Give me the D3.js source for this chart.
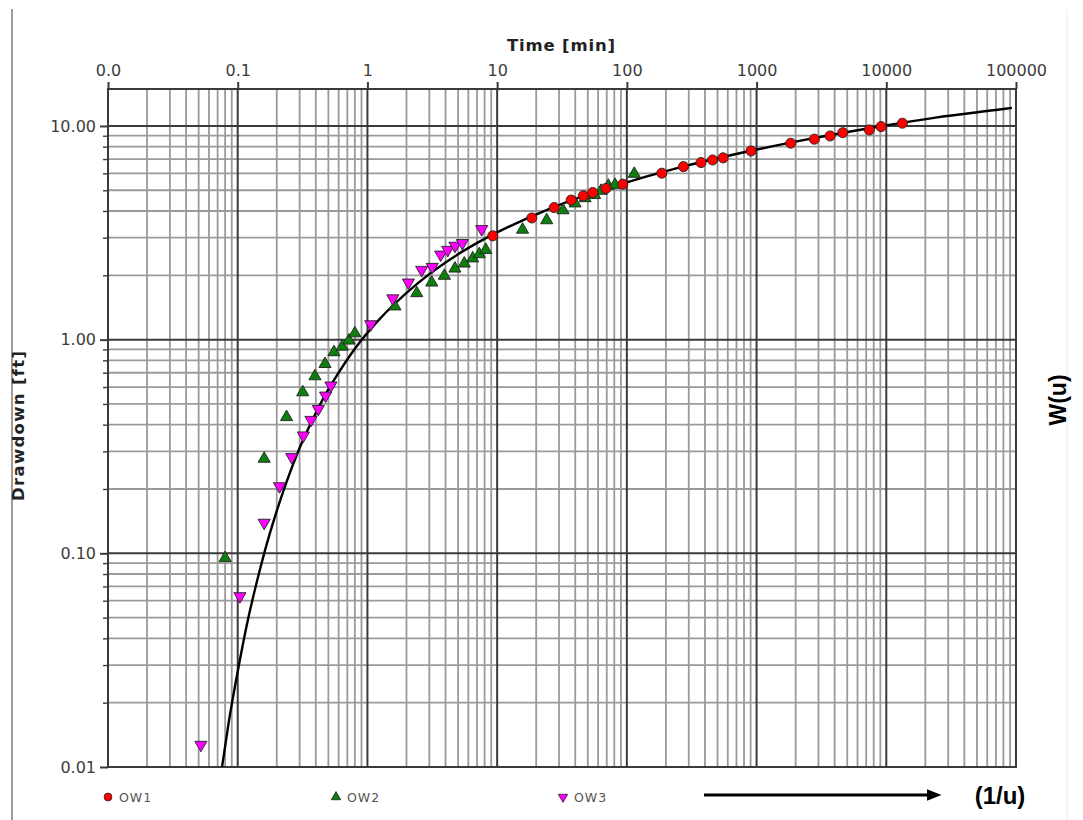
<!DOCTYPE html>
<html>
<head>
<meta charset="utf-8">
<script src="https://cdn.jsdelivr.net/npm/d3@7"></script>
<style>
    html, body { margin: 0; padding: 0; background: #fff; }
    svg { display: block; }
</style>
</head>
<body>
<div id="chart"></div>
<script>
// Axis ticks and labels
const timeTicks = [0.01, 0.1, 1, 10, 100, 1000, 10000, 100000];
const timeTickLabels = ["0.0", "0.1", "1", "10", "100", "1000", "10000", "100000"];
const drawdownTicks = [0.01, 0.1, 1, 10];
const drawdownTickLabels = ["0.01", "0.10", "1.00", "10.00"];

// Observation wells (time in min, drawdown in ft)
const ow1Time = [9.25, 18.5, 27.5, 37.2, 46.2, 54.6, 69, 93, 186, 273, 373, 458, 552, 907, 1835, 2790, 3690, 4620, 7410, 9120, 13300];
const ow1Drawdown = [3.06, 3.71, 4.15, 4.50, 4.71, 4.88, 5.10, 5.34, 6.01, 6.45, 6.74, 6.93, 7.09, 7.64, 8.30, 8.67, 8.98, 9.30, 9.58, 9.93, 10.3];

const ow2Time = [0.080, 0.160, 0.238, 0.317, 0.394, 0.471, 0.552, 0.639, 0.72, 0.80, 1.63, 2.40, 3.13, 3.92, 4.73, 5.58, 6.48, 7.29, 8.17, 15.7, 24.1, 32.2, 39.9, 47.6, 56.4, 63.2, 72, 81, 114];
const ow2Drawdown = [0.095, 0.277, 0.434, 0.567, 0.674, 0.769, 0.873, 0.927, 0.99, 1.07, 1.43, 1.65, 1.85, 1.99, 2.15, 2.27, 2.40, 2.51, 2.63, 3.27, 3.62, 4.03, 4.34, 4.59, 4.75, 4.97, 5.25, 5.30, 5.97];

const ow3Time = [0.052, 0.104, 0.160, 0.210, 0.261, 0.321, 0.367, 0.418, 0.476, 0.523, 1.06, 1.57, 2.07, 2.62, 3.16, 3.67, 4.16, 4.73, 5.39, 7.60];
const ow3Drawdown = [0.0127, 0.063, 0.139, 0.206, 0.282, 0.356, 0.421, 0.474, 0.547, 0.610, 1.18, 1.56, 1.85, 2.12, 2.19, 2.50, 2.63, 2.75, 2.83, 3.29];

// Matched type curve W(u)
const curveTime = [0.0757, 0.085, 0.1, 0.12, 0.14, 0.16, 0.2, 0.24, 0.3, 0.4, 0.48, 0.6, 0.8, 1.2, 1.6, 2.4, 4.8, 8, 12, 24, 48, 80, 240, 800, 2400, 8000, 24000, 80000, 93000];
const curveWu = [0.01, 0.016, 0.028, 0.049, 0.073, 0.10, 0.158, 0.219, 0.311, 0.454, 0.56, 0.70, 0.906, 1.22, 1.46, 1.82, 2.47, 2.96, 3.35, 4.04, 4.73, 5.23, 6.33, 7.53, 8.63, 9.84, 10.94, 12.0, 12.15];

const seriesNames = ["OW1", "OW2", "OW3"];

// Configuration object
const config = {
    width: 1083,
    height: 820,
    plot: { left: 108, right: 1016, top: 89, bottom: 767 },
    yTop: 14.89,
    font: "'DejaVu Sans', Verdana, sans-serif",
    colors: {
        major: "#3a3a3a",
        minor: "#9a9a9a",
        ow1: "#ff0000",
        ow2: "#0d7f0d",
        ow3: "#ff00ff",
        text: "#3c3c3c"
    }
};

const svg = d3.select("#chart")
    .append("svg")
    .attr("width", config.width)
    .attr("height", config.height);

// Panel frame
svg.append("line")
    .attr("x1", 12).attr("x2", 12).attr("y1", 9).attr("y2", config.height)
    .style("stroke", "#9c9c9c").style("stroke-width", 2);
svg.append("line")
    .attr("x1", 1067).attr("x2", 1067).attr("y1", 9).attr("y2", config.height)
    .style("stroke", "#ececec").style("stroke-width", 1);

const x = d3.scaleLog()
    .domain([0.01, 100000])
    .range([config.plot.left, config.plot.right]);

const y = d3.scaleLog()
    .domain([0.01, config.yTop])
    .range([config.plot.bottom, config.plot.top]);

const isMajor = v => Math.abs(Math.log10(v) - Math.round(Math.log10(v))) < 1e-9;
const xAll = x.ticks();
const yAll = y.ticks();

// Minor grid first, major grid on top
const grid = svg.append("g").attr("class", "grid");
grid.selectAll(".vminor")
    .data(xAll.filter(v => !isMajor(v)))
    .enter().append("line")
    .attr("x1", d => x(d)).attr("x2", d => x(d))
    .attr("y1", config.plot.top).attr("y2", config.plot.bottom)
    .style("stroke", config.colors.minor).style("stroke-width", 1.8);
grid.selectAll(".hminor")
    .data(yAll.filter(v => !isMajor(v)))
    .enter().append("line")
    .attr("x1", config.plot.left).attr("x2", config.plot.right)
    .attr("y1", d => y(d)).attr("y2", d => y(d))
    .style("stroke", config.colors.minor).style("stroke-width", 1.8);
grid.selectAll(".vmajor")
    .data(xAll.filter(isMajor))
    .enter().append("line")
    .attr("x1", d => x(d)).attr("x2", d => x(d))
    .attr("y1", config.plot.top).attr("y2", config.plot.bottom)
    .style("stroke", config.colors.major).style("stroke-width", 2);
grid.selectAll(".hmajor")
    .data(yAll.filter(isMajor))
    .enter().append("line")
    .attr("x1", config.plot.left).attr("x2", config.plot.right)
    .attr("y1", d => y(d)).attr("y2", d => y(d))
    .style("stroke", config.colors.major).style("stroke-width", 2);

// Plot border
svg.append("rect")
    .attr("x", config.plot.left).attr("y", config.plot.top)
    .attr("width", config.plot.right - config.plot.left)
    .attr("height", config.plot.bottom - config.plot.top)
    .style("fill", "none").style("stroke", config.colors.major).style("stroke-width", 2);

// Top axis (time)
const topAxis = svg.append("g")
    .attr("transform", `translate(0,${config.plot.top})`)
    .call(d3.axisTop(x)
        .tickValues(timeTicks)
        .tickSize(7)
        .tickFormat((d, i) => timeTickLabels[i]));
topAxis.select(".domain").remove();
topAxis.selectAll("line").style("stroke", config.colors.major).style("stroke-width", 2);
topAxis.selectAll("text")
    .attr("y", -13)
    .style("font-family", config.font)
    .style("font-size", "16px")
    .style("fill", config.colors.text);

// Left axis (drawdown), minor ticks then majors
const leftMinor = svg.append("g")
    .attr("transform", `translate(${config.plot.left},0)`)
    .call(d3.axisLeft(y)
        .tickValues(yAll.filter(v => !isMajor(v)))
        .tickSize(5)
        .tickFormat(""));
leftMinor.select(".domain").remove();
leftMinor.selectAll("line").style("stroke", config.colors.major).style("stroke-width", 1.4);

const leftAxis = svg.append("g")
    .attr("transform", `translate(${config.plot.left},0)`)
    .call(d3.axisLeft(y)
        .tickValues(drawdownTicks)
        .tickSize(8)
        .tickFormat((d, i) => drawdownTickLabels[i]));
leftAxis.select(".domain").remove();
leftAxis.selectAll("line").style("stroke", config.colors.major).style("stroke-width", 2);
leftAxis.selectAll("text")
    .attr("x", -12)
    .style("font-family", config.font)
    .style("font-size", "16px")
    .style("fill", config.colors.text);

// Axis titles
svg.append("text")
    .attr("x", 561).attr("y", 51)
    .attr("text-anchor", "middle")
    .attr("textLength", 108)
    .style("font-family", config.font)
    .style("font-size", "16.5px")
    .style("font-weight", "bold")
    .style("fill", "#222")
    .text("Time [min]");

svg.append("text")
    .attr("transform", "translate(24,426) rotate(-90)")
    .attr("text-anchor", "middle")
    .attr("textLength", 150)
    .style("font-family", config.font)
    .style("font-size", "16.5px")
    .style("font-weight", "bold")
    .style("fill", "#222")
    .text("Drawdown [ft]");

// Type curve
const line = d3.line()
    .x(d => x(d[0]))
    .y(d => y(d[1]))
    .curve(d3.curveMonotoneX);

svg.append("path")
    .datum(curveTime.map((t, i) => [t, curveWu[i]]))
    .attr("d", line)
    .style("fill", "none")
    .style("stroke", "#000")
    .style("stroke-width", 2.4);

// Markers
const symbols = {
    OW1: { type: d3.symbolCircle, size: 80, rotate: 0, color: config.colors.ow1 },
    OW2: { type: d3.symbolTriangle, size: 64, rotate: 0, color: config.colors.ow2 },
    OW3: { type: d3.symbolTriangle, size: 64, rotate: 180, color: config.colors.ow3 }
};

function drawSeries(name, times, values) {
    const s = symbols[name];
    svg.append("g")
        .attr("class", "series-" + name)
        .selectAll("path")
        .data(times.map((t, i) => [t, values[i]]))
        .enter().append("path")
        .attr("d", d3.symbol().type(s.type).size(s.size))
        .attr("transform", d => `translate(${x(d[0])},${y(d[1])}) rotate(${s.rotate})`)
        .style("fill", s.color)
        .style("stroke", "#222")
        .style("stroke-width", 0.9);
}

drawSeries("OW2", ow2Time, ow2Drawdown);
drawSeries("OW3", ow3Time, ow3Drawdown);
drawSeries("OW1", ow1Time, ow1Drawdown);

// Legend
const legendX = [108, 336, 563];
const legend = svg.append("g").attr("class", "legend");
seriesNames.forEach((name, i) => {
    const s = symbols[name];
    legend.append("path")
        .attr("d", d3.symbol().type(s.type).size(s.size * 0.6))
        .attr("transform", `translate(${legendX[i]},797) rotate(${s.rotate})`)
        .style("fill", s.color)
        .style("stroke", "#222")
        .style("stroke-width", 0.8);
    legend.append("text")
        .attr("x", legendX[i] + 11).attr("y", 801.5)
        .style("font-family", config.font)
        .style("font-size", "12.5px")
        .style("letter-spacing", "1px")
        .style("fill", "#555")
        .text(name);
});

// Annotations
svg.append("defs").append("marker")
    .attr("id", "arrowhead")
    .attr("viewBox", "0 0 10 10")
    .attr("refX", 1).attr("refY", 5)
    .attr("markerWidth", 5).attr("markerHeight", 5)
    .attr("markerUnits", "strokeWidth")
    .attr("orient", "auto")
    .append("path")
    .attr("d", "M0,1 L10,5 L0,9 Z")
    .style("fill", "#000");

svg.append("line")
    .attr("x1", 704).attr("x2", 928)
    .attr("y1", 795).attr("y2", 795)
    .style("stroke", "#000").style("stroke-width", 3)
    .attr("marker-end", "url(#arrowhead)");

svg.append("text")
    .attr("x", 1000).attr("y", 804)
    .attr("text-anchor", "middle")
    .style("font-family", "'Liberation Sans', Arial, sans-serif")
    .style("font-size", "24px")
    .style("font-weight", "bold")
    .style("fill", "#000")
    .text("(1/u)");

svg.append("text")
    .attr("transform", "translate(1066,400) rotate(-90)")
    .attr("text-anchor", "middle")
    .style("font-family", "'Liberation Sans', Arial, sans-serif")
    .style("font-size", "23px")
    .style("font-weight", "bold")
    .style("fill", "#000")
    .text("W(u)");
</script>
</body>
</html>
